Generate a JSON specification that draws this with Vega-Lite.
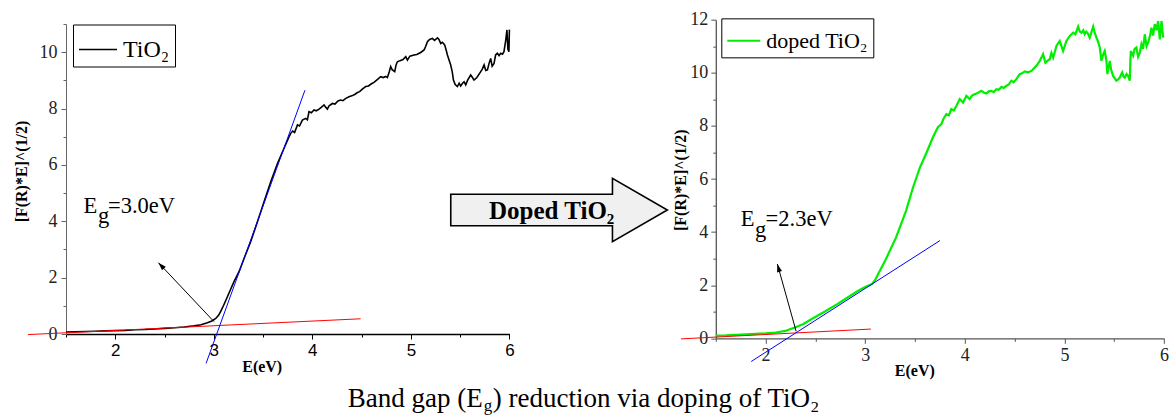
{
  "$schema": "https://vega.github.io/schema/vega-lite/v6.json",
  "padding": {"left": 13, "top": 10.5, "right": 0, "bottom": 0},
  "background": "white",
  "config": {
    "view": {"stroke": null},
    "axis": {"grid": false},
    "text": {"font": "Liberation Serif, Times New Roman, serif"}
  },
  "resolve": {"scale": {"color": "independent"}, "legend": {"color": "independent"}},
  "bounds": "flush",
  "center": true,
  "spacing": 205.8,
  "hconcat": [
    {
      "width": 443.4,
      "height": 310,
      "encoding": {
        "x": {"field": "E", "type": "quantitative",
          "scale": {"domain": [1.5, 6], "nice": false, "zero": false},
          "axis": {"title": "E(eV)", "values": [1.5,2,2.5,3,3.5,4,4.5,5,5.5,6],
            "labelExpr": "datum.value % 1 === 0 ? format(datum.value, 'd') : ''",
            "labelFont": "Liberation Sans, Arial, sans-serif", "labelFontSize": 17, "labelColor": "#000",
            "labelPadding": 3, "labelFlush": false, "labelOverlap": false,
            "tickSize": {"condition": {"test": "datum.value % 1 !== 0", "value": 3}, "value": 5},
            "tickColor": "#000", "domainColor": "#000", "domainWidth": 1.5,
            "titleFont": "Liberation Serif, Times New Roman, serif", "titleFontWeight": "bold", "titleFontSize": 16,
            "titleX": 195.7, "titleY": 37, "titleBaseline": "alphabetic", "titleAlign": "center", "titleColor": "#000"}},
        "y": {"field": "v", "type": "quantitative",
          "scale": {"domain": [0, 11], "nice": false, "zero": false},
          "axis": {"title": "[F(R)*E]^(1/2)", "values": [0,1,2,3,4,5,6,7,8,9,10,11],
            "labelExpr": "datum.value % 2 === 0 ? format(datum.value, 'd') : ''",
            "labelFont": "Liberation Serif, Times New Roman, serif", "labelFontSize": 18, "labelColor": "#222",
            "labelPadding": 4, "labelFlush": false, "labelOverlap": false,
            "tickSize": {"condition": {"test": "datum.value % 2 !== 0", "value": 3}, "value": 5},
            "tickColor": "#666", "domainColor": "#666", "domainWidth": 1,
            "titleFont": "Liberation Serif, Times New Roman, serif", "titleFontWeight": "bold", "titleFontSize": 16,
            "titleX": -39.3, "titleY": 147, "titleBaseline": "alphabetic", "titleAngle": 270, "titleAlign": "center", "titleColor": "#000"}}
      },
      "layer": [
        {
          "data": {"values": [
            {"E":1.5,"v":0.07,"s":"TiO₂"},{"E":1.6,"v":0.08,"s":"TiO₂"},{"E":1.7,"v":0.09,"s":"TiO₂"},{"E":1.8,"v":0.1,"s":"TiO₂"},{"E":1.9,"v":0.11,"s":"TiO₂"},{"E":2.0,"v":0.12,"s":"TiO₂"},{"E":2.1,"v":0.13,"s":"TiO₂"},{"E":2.2,"v":0.15,"s":"TiO₂"},{"E":2.3,"v":0.16,"s":"TiO₂"},{"E":2.4,"v":0.18,"s":"TiO₂"},{"E":2.5,"v":0.2,"s":"TiO₂"},{"E":2.6,"v":0.22,"s":"TiO₂"},{"E":2.7,"v":0.25,"s":"TiO₂"},{"E":2.8,"v":0.29,"s":"TiO₂"},{"E":2.87,"v":0.33,"s":"TiO₂"},{"E":2.935,"v":0.4,"s":"TiO₂"},{"E":2.98,"v":0.46,"s":"TiO₂"},{"E":3.02,"v":0.55,"s":"TiO₂"},{"E":3.05,"v":0.67,"s":"TiO₂"},{"E":3.07,"v":0.8,"s":"TiO₂"},{"E":3.1,"v":1.02,"s":"TiO₂"},{"E":3.138,"v":1.32,"s":"TiO₂"},{"E":3.17,"v":1.58,"s":"TiO₂"},{"E":3.205,"v":1.86,"s":"TiO₂"},{"E":3.256,"v":2.21,"s":"TiO₂"},{"E":3.307,"v":2.68,"s":"TiO₂"},{"E":3.375,"v":3.28,"s":"TiO₂"},{"E":3.443,"v":3.98,"s":"TiO₂"},{"E":3.51,"v":4.69,"s":"TiO₂"},{"E":3.578,"v":5.4,"s":"TiO₂"},{"E":3.646,"v":6.05,"s":"TiO₂"},{"E":3.713,"v":6.59,"s":"TiO₂"},{"E":3.764,"v":7.0,"s":"TiO₂"},{"E":3.781,"v":7.12,"s":"TiO₂"},{"E":3.8,"v":7.2,"s":"TiO₂"},{"E":3.82,"v":7.15,"s":"TiO₂"},{"E":3.849,"v":7.42,"s":"TiO₂"},{"E":3.87,"v":7.38,"s":"TiO₂"},{"E":3.899,"v":7.59,"s":"TiO₂"},{"E":3.933,"v":7.65,"s":"TiO₂"},{"E":3.95,"v":7.6,"s":"TiO₂"},{"E":3.966,"v":7.89,"s":"TiO₂"},{"E":3.99,"v":7.85,"s":"TiO₂"},{"E":4.017,"v":7.95,"s":"TiO₂"},{"E":4.04,"v":7.92,"s":"TiO₂"},{"E":4.068,"v":7.98,"s":"TiO₂"},{"E":4.09,"v":8.04,"s":"TiO₂"},{"E":4.119,"v":8.13,"s":"TiO₂"},{"E":4.135,"v":8.05,"s":"TiO₂"},{"E":4.153,"v":7.98,"s":"TiO₂"},{"E":4.17,"v":8.1,"s":"TiO₂"},{"E":4.204,"v":8.18,"s":"TiO₂"},{"E":4.23,"v":8.16,"s":"TiO₂"},{"E":4.26,"v":8.27,"s":"TiO₂"},{"E":4.288,"v":8.3,"s":"TiO₂"},{"E":4.31,"v":8.28,"s":"TiO₂"},{"E":4.34,"v":8.36,"s":"TiO₂"},{"E":4.372,"v":8.42,"s":"TiO₂"},{"E":4.4,"v":8.45,"s":"TiO₂"},{"E":4.43,"v":8.5,"s":"TiO₂"},{"E":4.458,"v":8.57,"s":"TiO₂"},{"E":4.48,"v":8.6,"s":"TiO₂"},{"E":4.51,"v":8.7,"s":"TiO₂"},{"E":4.542,"v":8.78,"s":"TiO₂"},{"E":4.57,"v":8.8,"s":"TiO₂"},{"E":4.6,"v":8.88,"s":"TiO₂"},{"E":4.626,"v":8.93,"s":"TiO₂"},{"E":4.65,"v":9.0,"s":"TiO₂"},{"E":4.694,"v":9.13,"s":"TiO₂"},{"E":4.72,"v":9.1,"s":"TiO₂"},{"E":4.745,"v":9.14,"s":"TiO₂"},{"E":4.762,"v":9.1,"s":"TiO₂"},{"E":4.78,"v":9.3,"s":"TiO₂"},{"E":4.795,"v":9.49,"s":"TiO₂"},{"E":4.81,"v":9.38,"s":"TiO₂"},{"E":4.836,"v":9.31,"s":"TiO₂"},{"E":4.85,"v":9.55,"s":"TiO₂"},{"E":4.863,"v":9.66,"s":"TiO₂"},{"E":4.89,"v":9.7,"s":"TiO₂"},{"E":4.92,"v":9.74,"s":"TiO₂"},{"E":4.948,"v":9.84,"s":"TiO₂"},{"E":4.965,"v":9.72,"s":"TiO₂"},{"E":4.99,"v":9.86,"s":"TiO₂"},{"E":5.032,"v":9.9,"s":"TiO₂"},{"E":5.06,"v":9.92,"s":"TiO₂"},{"E":5.1,"v":9.99,"s":"TiO₂"},{"E":5.134,"v":10.08,"s":"TiO₂"},{"E":5.15,"v":10.2,"s":"TiO₂"},{"E":5.168,"v":10.37,"s":"TiO₂"},{"E":5.19,"v":10.45,"s":"TiO₂"},{"E":5.219,"v":10.49,"s":"TiO₂"},{"E":5.24,"v":10.42,"s":"TiO₂"},{"E":5.27,"v":10.51,"s":"TiO₂"},{"E":5.285,"v":10.45,"s":"TiO₂"},{"E":5.303,"v":10.31,"s":"TiO₂"},{"E":5.32,"v":10.35,"s":"TiO₂"},{"E":5.343,"v":10.26,"s":"TiO₂"},{"E":5.36,"v":10.05,"s":"TiO₂"},{"E":5.371,"v":9.9,"s":"TiO₂"},{"E":5.39,"v":9.7,"s":"TiO₂"},{"E":5.404,"v":9.55,"s":"TiO₂"},{"E":5.42,"v":9.3,"s":"TiO₂"},{"E":5.432,"v":9.01,"s":"TiO₂"},{"E":5.45,"v":8.85,"s":"TiO₂"},{"E":5.472,"v":8.78,"s":"TiO₂"},{"E":5.49,"v":8.9,"s":"TiO₂"},{"E":5.505,"v":8.8,"s":"TiO₂"},{"E":5.523,"v":8.89,"s":"TiO₂"},{"E":5.54,"v":8.95,"s":"TiO₂"},{"E":5.557,"v":8.84,"s":"TiO₂"},{"E":5.575,"v":9.0,"s":"TiO₂"},{"E":5.607,"v":9.19,"s":"TiO₂"},{"E":5.625,"v":9.1,"s":"TiO₂"},{"E":5.641,"v":9.01,"s":"TiO₂"},{"E":5.67,"v":9.1,"s":"TiO₂"},{"E":5.709,"v":9.31,"s":"TiO₂"},{"E":5.725,"v":9.4,"s":"TiO₂"},{"E":5.743,"v":9.55,"s":"TiO₂"},{"E":5.76,"v":9.35,"s":"TiO₂"},{"E":5.777,"v":9.37,"s":"TiO₂"},{"E":5.795,"v":9.62,"s":"TiO₂"},{"E":5.81,"v":9.78,"s":"TiO₂"},{"E":5.825,"v":9.5,"s":"TiO₂"},{"E":5.844,"v":9.6,"s":"TiO₂"},{"E":5.86,"v":9.9,"s":"TiO₂"},{"E":5.878,"v":9.96,"s":"TiO₂"},{"E":5.895,"v":9.88,"s":"TiO₂"},{"E":5.912,"v":9.96,"s":"TiO₂"},{"E":5.93,"v":9.93,"s":"TiO₂"},{"E":5.945,"v":10.02,"s":"TiO₂"},{"E":5.963,"v":10.43,"s":"TiO₂"},{"E":5.975,"v":10.79,"s":"TiO₂"},{"E":5.985,"v":10.1,"s":"TiO₂"},{"E":5.995,"v":10.02,"s":"TiO₂"},{"E":6.0,"v":10.8,"s":"TiO₂"}
          ]},
          "mark": {"type": "line", "strokeWidth": 1.6},
          "encoding": {"color": {"field": "s", "type": "nominal",
            "scale": {"domain": ["TiO₂"], "range": ["#000000"]},
            "legend": {"title": null, "orient": "none", "legendX": 7, "legendY": 0.5,
              "strokeColor": "#000", "fillColor": "#fff", "padding": 5, "cornerRadius": 0,
              "symbolType": "stroke", "symbolSize": 1444, "symbolStrokeWidth": 1.5,
              "labelFont": "Liberation Serif, Times New Roman, serif", "labelFontSize": 24, "labelColor": "#000",
              "labelOffset": 5, "labelLimit": 0}}}
        },
        {
          "data": {"values": [{"E":1.115,"v":-0.02},{"E":4.49,"v":0.54}]},
          "mark": {"type": "line", "color": "#ff0000", "strokeWidth": 1},
          "encoding": {}
        },
        {
          "data": {"values": [{"E":2.922,"v":-1.04},{"E":3.925,"v":8.65}]},
          "mark": {"type": "line", "color": "#0000ff", "strokeWidth": 1},
          "encoding": {}
        },
        {
          "data": {"values": [{"E":3.002,"v":0.44},{"E":2.438,"v":2.53}]},
          "mark": {"type": "line", "color": "#000000", "strokeWidth": 1},
          "encoding": {}
        },
        {
          "data": {"values": [{"E":2.438,"v":2.53}]},
          "mark": {"type": "point", "shape": "M0,0L0.32,1L-0.32,1Z", "size": 256, "angle": 316.7, "filled": true, "color": "#000", "opacity": 1}
        },
        {
          "data": {"values": [{"E":1.677,"v":4.28,"t":"E"},{"E":1.825,"v":3.925,"t":"g"},{"E":1.926,"v":4.28,"t":"=3.0eV"}]},
          "mark": {"type": "text", "font": "Liberation Serif, Times New Roman, serif", "fontSize": 22.5, "align": "left", "baseline": "alphabetic", "color": "#000"},
          "encoding": {"text": {"field": "t"}}
        },
        {
          "data": {"values": [{"E":6.504,"v":4.40}]},
          "mark": {"type": "point", "shape": "M-1,-0.146L0.493,-0.146L0.493,-0.292L1,0L0.493,0.292L0.493,0.146L-1,0.146Z", "size": 46916, "filled": true, "fill": "#f0f0f0", "stroke": "#000", "strokeWidth": 1.6, "opacity": 1}
        },
        {
          "data": {"values": [{"E":6.429,"v":4.08,"t":"Doped TiO₂"}]},
          "mark": {"type": "text", "font": "Liberation Serif, Times New Roman, serif", "fontSize": 25, "fontWeight": "bold", "align": "center", "baseline": "alphabetic", "color": "#000"},
          "encoding": {"text": {"field": "t"}}
        },
        {
          "data": {"values": [{"E":4.359,"v":-2.58,"t":"Band gap (E"},{"E":5.831,"v":-2.58,"t":") reduction via doping of TiO₂"}]},
          "mark": {"type": "text", "font": "Liberation Serif, Times New Roman, serif", "fontSize": 27, "align": "left", "baseline": "alphabetic", "color": "#000"},
          "encoding": {"text": {"field": "t"}}
        },
        {
          "data": {"values": [{"E":5.739,"v":-2.72,"t":"g"}]},
          "mark": {"type": "text", "font": "Liberation Serif, Times New Roman, serif", "fontSize": 17, "align": "left", "baseline": "alphabetic", "color": "#000"},
          "encoding": {"text": {"field": "t"}}
        }
      ]
    },
    {
      "width": 448.2,
      "height": 318.7,
      "encoding": {
        "x": {"field": "E", "type": "quantitative",
          "scale": {"domain": [1.5, 6], "nice": false, "zero": false},
          "axis": {"title": "E(eV)", "values": [1.5,2,2.5,3,3.5,4,4.5,5,5.5,6],
            "labelExpr": "datum.value % 1 === 0 ? format(datum.value, 'd') : ''",
            "labelFont": "Liberation Serif, Times New Roman, serif", "labelFontSize": 18, "labelColor": "#222",
            "labelPadding": 3, "labelFlush": false, "labelOverlap": false,
            "tickSize": {"condition": {"test": "datum.value % 1 !== 0", "value": 3}, "value": 5},
            "tickColor": "#555", "domainColor": "#555", "domainWidth": 1.3,
            "titleFont": "Liberation Serif, Times New Roman, serif", "titleFontWeight": "bold", "titleFontSize": 16,
            "titleX": 198.5, "titleY": 37, "titleBaseline": "alphabetic", "titleAlign": "center", "titleColor": "#000"}},
        "y": {"field": "v", "type": "quantitative",
          "scale": {"domain": [0, 12], "nice": false, "zero": false},
          "axis": {"title": "[F(R)*E]^(1/2)", "values": [0,1,2,3,4,5,6,7,8,9,10,11,12],
            "labelExpr": "datum.value % 2 === 0 ? format(datum.value, 'd') : ''",
            "labelFont": "Liberation Serif, Times New Roman, serif", "labelFontSize": 18, "labelColor": "#222",
            "labelPadding": 3, "labelFlush": false, "labelOverlap": false,
            "tickSize": {"condition": {"test": "datum.value % 2 !== 0", "value": 3}, "value": 5},
            "tickColor": "#555", "domainColor": "#555", "domainWidth": 1.3,
            "titleFont": "Liberation Serif, Times New Roman, serif", "titleFontWeight": "bold", "titleFontSize": 16,
            "titleX": -30, "titleY": 160, "titleBaseline": "alphabetic", "titleAngle": 270, "titleAlign": "center", "titleColor": "#000"}}
      },
      "layer": [
        {
          "data": {"values": [
            {"E":1.5,"v":0.1,"s":"doped TiO₂"},{"E":1.6,"v":0.11,"s":"doped TiO₂"},{"E":1.7,"v":0.13,"s":"doped TiO₂"},{"E":1.8,"v":0.15,"s":"doped TiO₂"},{"E":1.9,"v":0.17,"s":"doped TiO₂"},{"E":2.0,"v":0.19,"s":"doped TiO₂"},{"E":2.1,"v":0.22,"s":"doped TiO₂"},{"E":2.2,"v":0.28,"s":"doped TiO₂"},{"E":2.25,"v":0.35,"s":"doped TiO₂"},{"E":2.3,"v":0.42,"s":"doped TiO₂"},{"E":2.38,"v":0.54,"s":"doped TiO₂"},{"E":2.45,"v":0.7,"s":"doped TiO₂"},{"E":2.52,"v":0.85,"s":"doped TiO₂"},{"E":2.6,"v":1.02,"s":"doped TiO₂"},{"E":2.72,"v":1.29,"s":"doped TiO₂"},{"E":2.8,"v":1.48,"s":"doped TiO₂"},{"E":2.93,"v":1.79,"s":"doped TiO₂"},{"E":3.0,"v":1.93,"s":"doped TiO₂"},{"E":3.07,"v":2.05,"s":"doped TiO₂"},{"E":3.1,"v":2.2,"s":"doped TiO₂"},{"E":3.13,"v":2.42,"s":"doped TiO₂"},{"E":3.2,"v":2.92,"s":"doped TiO₂"},{"E":3.31,"v":3.8,"s":"doped TiO₂"},{"E":3.41,"v":4.8,"s":"doped TiO₂"},{"E":3.48,"v":5.68,"s":"doped TiO₂"},{"E":3.55,"v":6.44,"s":"doped TiO₂"},{"E":3.61,"v":6.94,"s":"doped TiO₂"},{"E":3.68,"v":7.57,"s":"doped TiO₂"},{"E":3.73,"v":7.95,"s":"doped TiO₂"},{"E":3.765,"v":8.07,"s":"doped TiO₂"},{"E":3.79,"v":8.3,"s":"doped TiO₂"},{"E":3.815,"v":8.44,"s":"doped TiO₂"},{"E":3.84,"v":8.4,"s":"doped TiO₂"},{"E":3.865,"v":8.63,"s":"doped TiO₂"},{"E":3.89,"v":8.58,"s":"doped TiO₂"},{"E":3.915,"v":8.75,"s":"doped TiO₂"},{"E":3.949,"v":9.01,"s":"doped TiO₂"},{"E":3.983,"v":8.88,"s":"doped TiO₂"},{"E":4.016,"v":9.13,"s":"doped TiO₂"},{"E":4.049,"v":9.01,"s":"doped TiO₂"},{"E":4.075,"v":9.15,"s":"doped TiO₂"},{"E":4.099,"v":9.19,"s":"doped TiO₂"},{"E":4.13,"v":9.24,"s":"doped TiO₂"},{"E":4.167,"v":9.32,"s":"doped TiO₂"},{"E":4.19,"v":9.26,"s":"doped TiO₂"},{"E":4.217,"v":9.22,"s":"doped TiO₂"},{"E":4.24,"v":9.3,"s":"doped TiO₂"},{"E":4.267,"v":9.32,"s":"doped TiO₂"},{"E":4.29,"v":9.27,"s":"doped TiO₂"},{"E":4.317,"v":9.38,"s":"doped TiO₂"},{"E":4.34,"v":9.36,"s":"doped TiO₂"},{"E":4.368,"v":9.47,"s":"doped TiO₂"},{"E":4.39,"v":9.43,"s":"doped TiO₂"},{"E":4.418,"v":9.51,"s":"doped TiO₂"},{"E":4.44,"v":9.55,"s":"doped TiO₂"},{"E":4.468,"v":9.7,"s":"doped TiO₂"},{"E":4.49,"v":9.64,"s":"doped TiO₂"},{"E":4.518,"v":9.76,"s":"doped TiO₂"},{"E":4.551,"v":9.95,"s":"doped TiO₂"},{"E":4.575,"v":9.98,"s":"doped TiO₂"},{"E":4.602,"v":10.05,"s":"doped TiO₂"},{"E":4.635,"v":10.02,"s":"doped TiO₂"},{"E":4.669,"v":10.07,"s":"doped TiO₂"},{"E":4.69,"v":10.15,"s":"doped TiO₂"},{"E":4.719,"v":10.26,"s":"doped TiO₂"},{"E":4.745,"v":10.4,"s":"doped TiO₂"},{"E":4.769,"v":10.57,"s":"doped TiO₂"},{"E":4.786,"v":10.7,"s":"doped TiO₂"},{"E":4.809,"v":10.38,"s":"doped TiO₂"},{"E":4.83,"v":10.45,"s":"doped TiO₂"},{"E":4.853,"v":10.51,"s":"doped TiO₂"},{"E":4.87,"v":10.75,"s":"doped TiO₂"},{"E":4.887,"v":10.57,"s":"doped TiO₂"},{"E":4.905,"v":10.8,"s":"doped TiO₂"},{"E":4.92,"v":11.01,"s":"doped TiO₂"},{"E":4.953,"v":11.2,"s":"doped TiO₂"},{"E":4.987,"v":10.82,"s":"doped TiO₂"},{"E":5.02,"v":11.2,"s":"doped TiO₂"},{"E":5.054,"v":11.39,"s":"doped TiO₂"},{"E":5.088,"v":11.51,"s":"doped TiO₂"},{"E":5.11,"v":11.45,"s":"doped TiO₂"},{"E":5.138,"v":11.74,"s":"doped TiO₂"},{"E":5.155,"v":11.55,"s":"doped TiO₂"},{"E":5.171,"v":11.51,"s":"doped TiO₂"},{"E":5.19,"v":11.6,"s":"doped TiO₂"},{"E":5.204,"v":11.45,"s":"doped TiO₂"},{"E":5.22,"v":11.55,"s":"doped TiO₂"},{"E":5.238,"v":11.47,"s":"doped TiO₂"},{"E":5.254,"v":11.32,"s":"doped TiO₂"},{"E":5.289,"v":11.74,"s":"doped TiO₂"},{"E":5.305,"v":11.5,"s":"doped TiO₂"},{"E":5.322,"v":11.32,"s":"doped TiO₂"},{"E":5.34,"v":11.15,"s":"doped TiO₂"},{"E":5.355,"v":10.95,"s":"doped TiO₂"},{"E":5.372,"v":10.45,"s":"doped TiO₂"},{"E":5.39,"v":10.7,"s":"doped TiO₂"},{"E":5.405,"v":10.82,"s":"doped TiO₂"},{"E":5.422,"v":10.45,"s":"doped TiO₂"},{"E":5.432,"v":9.95,"s":"doped TiO₂"},{"E":5.455,"v":10.45,"s":"doped TiO₂"},{"E":5.47,"v":10.1,"s":"doped TiO₂"},{"E":5.489,"v":9.88,"s":"doped TiO₂"},{"E":5.505,"v":9.8,"s":"doped TiO₂"},{"E":5.522,"v":9.7,"s":"doped TiO₂"},{"E":5.54,"v":9.75,"s":"doped TiO₂"},{"E":5.556,"v":9.82,"s":"doped TiO₂"},{"E":5.58,"v":10.01,"s":"doped TiO₂"},{"E":5.595,"v":9.85,"s":"doped TiO₂"},{"E":5.606,"v":9.82,"s":"doped TiO₂"},{"E":5.625,"v":9.95,"s":"doped TiO₂"},{"E":5.64,"v":9.88,"s":"doped TiO₂"},{"E":5.656,"v":9.7,"s":"doped TiO₂"},{"E":5.666,"v":10.82,"s":"doped TiO₂"},{"E":5.69,"v":10.64,"s":"doped TiO₂"},{"E":5.705,"v":10.9,"s":"doped TiO₂"},{"E":5.723,"v":10.95,"s":"doped TiO₂"},{"E":5.74,"v":10.6,"s":"doped TiO₂"},{"E":5.757,"v":10.76,"s":"doped TiO₂"},{"E":5.774,"v":11.08,"s":"doped TiO₂"},{"E":5.79,"v":10.9,"s":"doped TiO₂"},{"E":5.807,"v":11.45,"s":"doped TiO₂"},{"E":5.825,"v":11.0,"s":"doped TiO₂"},{"E":5.841,"v":11.14,"s":"doped TiO₂"},{"E":5.86,"v":11.4,"s":"doped TiO₂"},{"E":5.874,"v":11.7,"s":"doped TiO₂"},{"E":5.89,"v":11.4,"s":"doped TiO₂"},{"E":5.907,"v":11.83,"s":"doped TiO₂"},{"E":5.925,"v":11.6,"s":"doped TiO₂"},{"E":5.941,"v":11.95,"s":"doped TiO₂"},{"E":5.958,"v":11.26,"s":"doped TiO₂"},{"E":5.975,"v":11.95,"s":"doped TiO₂"},{"E":5.992,"v":11.32,"s":"doped TiO₂"}
          ]},
          "mark": {"type": "line", "strokeWidth": 2.2},
          "encoding": {"color": {"field": "s", "type": "nominal",
            "scale": {"domain": ["doped TiO₂"], "range": ["#00ee00"]},
            "legend": {"title": null, "orient": "none", "legendX": 5.5, "legendY": -1.3,
              "strokeColor": "#000", "fillColor": "#fff", "padding": 5, "cornerRadius": 0,
              "symbolType": "stroke", "symbolSize": 1089, "symbolStrokeWidth": 2,
              "labelFont": "Liberation Serif, Times New Roman, serif", "labelFontSize": 22, "labelColor": "#000",
              "labelOffset": 5, "labelLimit": 0}}}
        },
        {
          "data": {"values": [{"E":1.151,"v":-0.02},{"E":3.057,"v":0.35}]},
          "mark": {"type": "line", "color": "#ff0000", "strokeWidth": 1},
          "encoding": {}
        },
        {
          "data": {"values": [{"E":1.856,"v":-0.87},{"E":3.75,"v":3.68}]},
          "mark": {"type": "line", "color": "#0000ff", "strokeWidth": 1},
          "encoding": {}
        },
        {
          "data": {"values": [{"E":2.307,"v":0.26},{"E":2.118,"v":2.8}]},
          "mark": {"type": "line", "color": "#000000", "strokeWidth": 1},
          "encoding": {}
        },
        {
          "data": {"values": [{"E":2.118,"v":2.8}]},
          "mark": {"type": "point", "shape": "M0,0L0.32,1L-0.32,1Z", "size": 256, "angle": 344.3, "filled": true, "color": "#000", "opacity": 1}
        },
        {
          "data": {"values": [{"E":1.751,"v":4.24,"t":"E"},{"E":1.894,"v":3.8,"t":"g"},{"E":2.0,"v":4.24,"t":"=2.3eV"}]},
          "mark": {"type": "text", "font": "Liberation Serif, Times New Roman, serif", "fontSize": 22.5, "align": "left", "baseline": "alphabetic", "color": "#000"},
          "encoding": {"text": {"field": "t"}}
        }
      ]
    }
  ]
}
